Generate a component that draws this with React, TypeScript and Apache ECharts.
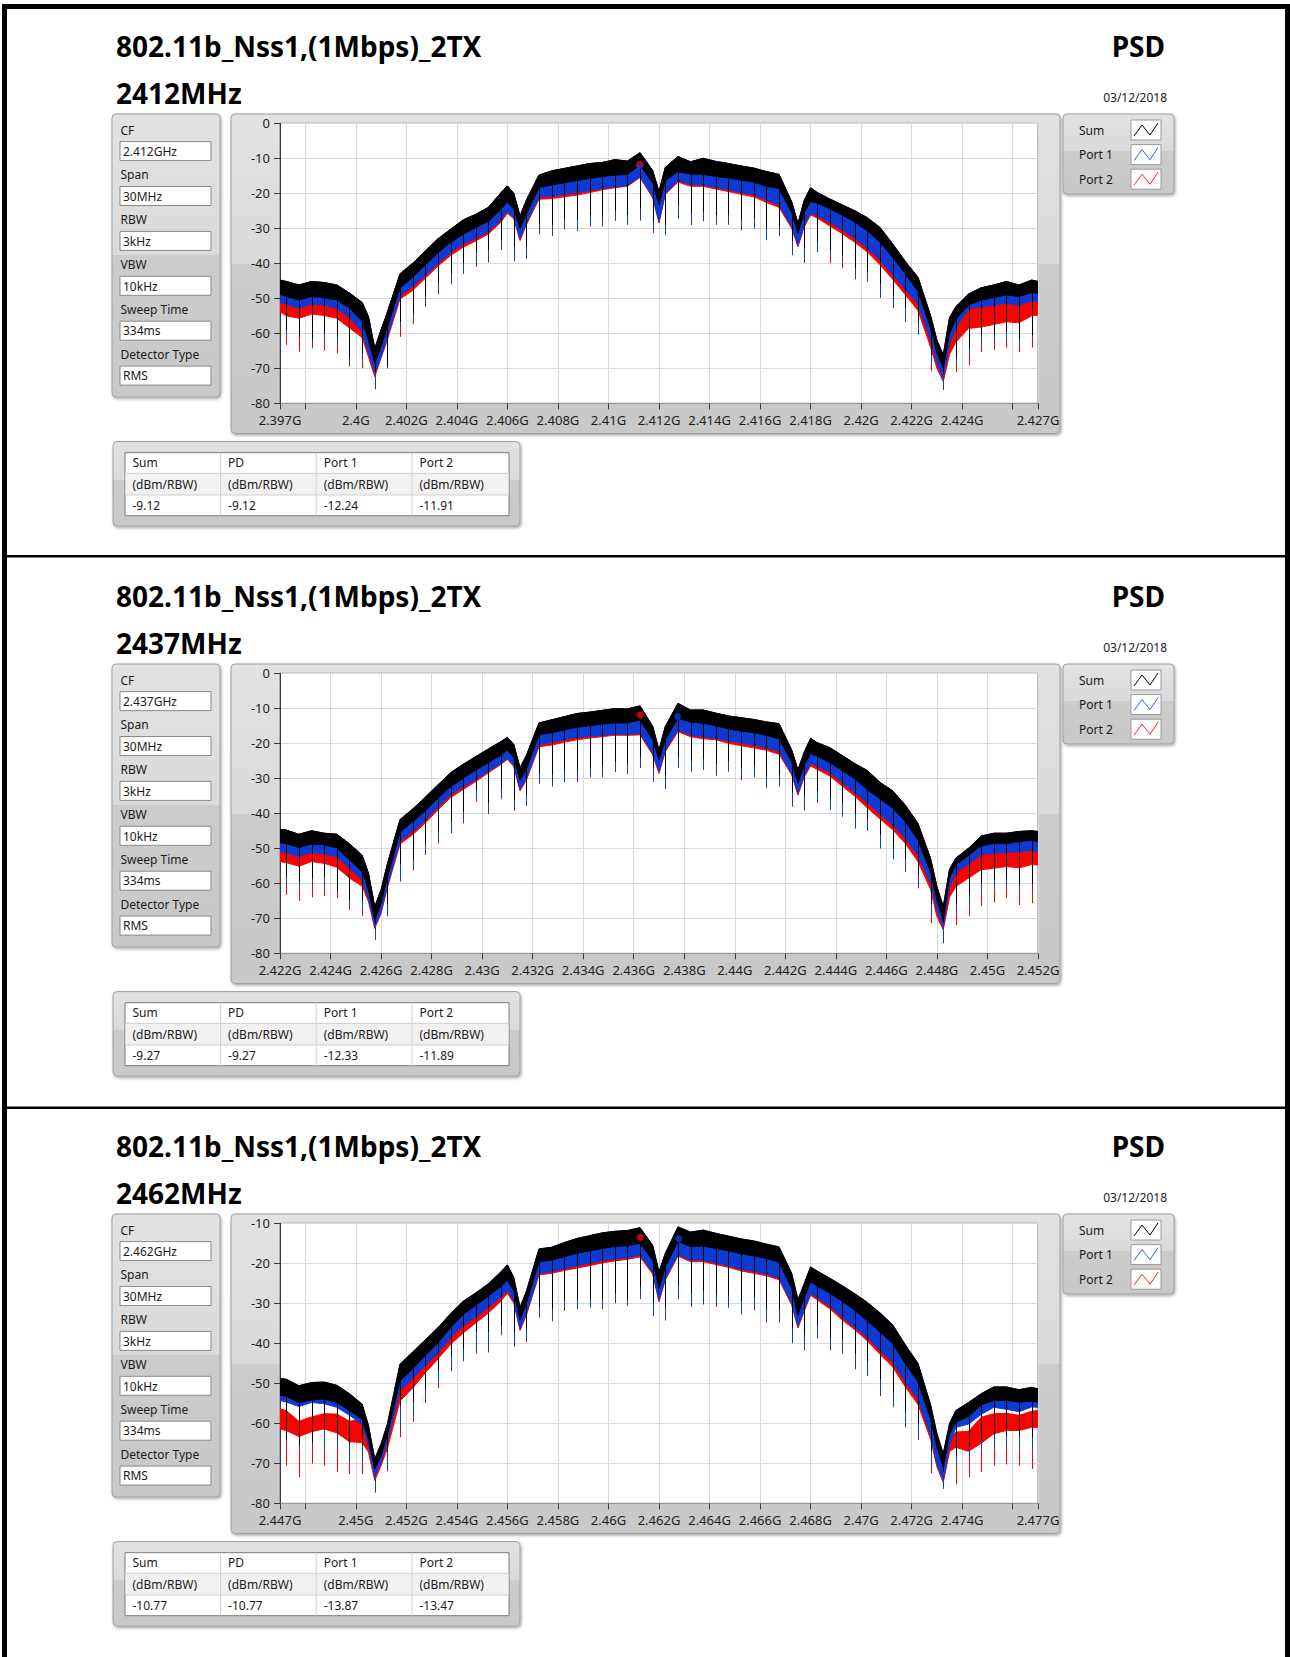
import React, { useEffect, useRef } from 'react';
import * as echarts from 'echarts';

// ---------------- text content ----------------
const TITLE = '802.11b_Nss1,(1Mbps)_2TX';
const PSD_LABEL = 'PSD';
const DATE_LABEL = '03/12/2018';
const CENTER_MHZ = [2412, 2437, 2462];
const CHANNEL_LABELS = ['2412MHz', '2437MHz', '2462MHz'];
const CF_LABELS = ['2.412GHz', '2.437GHz', '2.462GHz'];
const PARAM_NAMES = ['CF', 'Span', 'RBW', 'VBW', 'Sweep Time', 'Detector Type'];
const PARAM_COMMON = ['30MHz', '3kHz', '10kHz', '334ms', 'RMS'];
const LEGEND_NAMES = ['Sum', 'Port 1', 'Port 2'];
const TABLE_HEADERS = ['Sum', 'PD', 'Port 1', 'Port 2'];
const TABLE_UNIT = '(dBm/RBW)';
const SUM_PEAK = [-9.12, -9.27, -10.77];
const PD_PEAK = [-9.12, -9.27, -10.77];
const PORT1_PEAK = [-12.24, -12.33, -13.87];
const PORT2_PEAK = [-11.91, -11.89, -13.47];
const MARKER_PORT1_OFF = [-0.76, 0.73, 0.78];
const MARKER_PORT2_OFF = [-0.76, -0.74, -0.74];

// ---------------- axes ----------------
const X_MIN = [2397, 2422, 2447];
const X_MAX = [2427, 2452, 2477];
const Y_MIN = [-80, -80, -80];
const Y_MAX = [0, 0, -10];
const X_LABELS_1 = [2397, 2400, 2402, 2404, 2406, 2408, 2410, 2412, 2414, 2416, 2418, 2420, 2422, 2424, 2427];
const X_TICKS_1 = [2397, 2398, 2400, 2402, 2404, 2406, 2408, 2410, 2412, 2414, 2416, 2418, 2420, 2422, 2424, 2426, 2427];
const X_LABELS_2 = [2422, 2424, 2426, 2428, 2430, 2432, 2434, 2436, 2438, 2440, 2442, 2444, 2446, 2448, 2450, 2452];
const X_TICKS_2 = [2422, 2424, 2426, 2428, 2430, 2432, 2434, 2436, 2438, 2440, 2442, 2444, 2446, 2448, 2450, 2452];
const X_LABELS_3 = [2447, 2450, 2452, 2454, 2456, 2458, 2460, 2462, 2464, 2466, 2468, 2470, 2472, 2474, 2477];
const X_TICKS_3 = [2447, 2448, 2450, 2452, 2454, 2456, 2458, 2460, 2462, 2464, 2466, 2468, 2470, 2472, 2474, 2476, 2477];

// ---------------- spectrum envelopes (offset from CF in MHz, dBm) ----------------
const OFFSETS = [-15, -14.75, -14.25, -13.75, -13.25, -12.75, -12.25, -11.75, -11.5, -11.25, -11, -10.75, -10.25, -9.75, -9.25, -8.75, -8.25, -7.75, -7.25, -6.75, -6.25, -6, -5.75, -5.5, -5.25, -4.75, -4.25, -3.75, -3.25, -2.75, -2.25, -1.75, -1.25, -0.75, -0.25, 0, 0.25, 0.75, 1.25, 1.75, 2.25, 2.75, 3.25, 3.75, 4.25, 4.75, 5.25, 5.5, 5.75, 6, 6.25, 6.75, 7.25, 7.75, 8.25, 8.75, 9.25, 9.75, 10.25, 10.75, 11, 11.25, 11.5, 11.75, 12.25, 12.75, 13.25, 13.75, 14.25, 14.75, 15];
const SPIKE_OFFSETS = [-14.75, -14.25, -13.75, -13.25, -12.75, -12.25, -11.75, -11.25, -10.75, -10.25, -9.75, -9.25, -8.75, -8.25, -7.75, -7.25, -6.75, -6.25, -5.75, -5.25, -4.75, -4.25, -3.75, -3.25, -2.75, -2.25, -1.75, -1.25, -0.75, -0.25, 0.25, 0.75, 1.25, 1.75, 2.25, 2.75, 3.25, 3.75, 4.25, 4.75, 5.25, 5.75, 6.25, 6.75, 7.25, 7.75, 8.25, 8.75, 9.25, 9.75, 10.25, 10.75, 11.25, 11.75, 12.25, 12.75, 13.25, 13.75, 14.25, 14.75];

// Panel 1 (2412 MHz)
const P1_SUM_TOP = [-44.8, -45.2, -46.2, -45.2, -45.5, -46.2, -48.5, -51.2, -55.2, -64.3, -59, -54, -43, -40, -36.5, -33, -30.3, -27.6, -26, -24, -19.8, -17.9, -20, -26.5, -22, -14.8, -13.6, -12.9, -12.2, -11.5, -11.2, -10.4, -10.8, -8.4, -13.5, -19.5, -12.6, -9.5, -11, -10, -10.9, -11.5, -12.2, -12.8, -13.8, -14.6, -22.4, -28.6, -22, -18.4, -19.7, -21.6, -23.3, -25, -27, -29.8, -34.5, -39.5, -44, -55, -62, -66.2, -55.5, -52.4, -48.8, -47, -46.2, -45.2, -46.2, -44.8, -45.2];
const P1_SUM_BOT = [-48.9, -49.5, -50.5, -49.5, -49.8, -50.5, -52.8, -56.5, -61.9, -68.6, -63.8, -58.2, -47, -44, -40.5, -37, -34, -31.7, -29.8, -28, -24.5, -22.4, -24.5, -30, -26, -18.4, -17.6, -17, -16.4, -15.7, -15.2, -14.8, -14.6, -11.9, -17, -23.3, -16.4, -13.8, -14.5, -14.6, -15.2, -15.6, -16.3, -16.8, -18, -18.6, -25.5, -31.4, -25.5, -22.4, -22.7, -24.4, -26.2, -28.3, -30.7, -34, -38.3, -43, -48, -58.5, -65.5, -70, -60, -56, -52, -50.5, -49.8, -49, -49.5, -48.4, -48.6];
const P1_PORT1_BOT = [-51.2, -51.6, -52.9, -51.6, -51.9, -52.9, -55.5, -59.5, -65.7, -71.4, -66.7, -61, -49.3, -46.6, -43.5, -40, -37, -34.4, -32.8, -31, -27.5, -25.2, -26.8, -33, -28.5, -21, -20.8, -20.3, -19.8, -19.2, -18.6, -18.1, -17.8, -15.2, -21, -28.1, -20, -16.3, -17.5, -17.6, -18.3, -19, -19.8, -20.4, -21.9, -23.3, -29.5, -34.8, -29, -25.7, -26.3, -28.3, -30.4, -32.8, -35.7, -39, -43.3, -47.5, -51.5, -62, -68.5, -72.9, -63, -58.5, -53, -52.5, -52, -51.4, -52, -50.7, -51];
const P1_PORT2_BOT = [-53.8, -55, -55.7, -54.5, -54.9, -55.7, -58.5, -61.2, -66.7, -72.4, -67.1, -61.8, -50.2, -47.8, -44.3, -40.8, -37.8, -35.4, -33.6, -31.6, -28.2, -25.7, -27.3, -33.5, -29, -21.7, -21.5, -21, -20.5, -19.8, -19, -18.4, -18, -15.5, -21.3, -28.5, -20.3, -16.8, -18, -18, -18.8, -19.5, -20.3, -21, -22.6, -24, -30, -35.3, -29.6, -26.2, -27, -29.3, -31.5, -34, -36.8, -40.4, -44.6, -49, -53.5, -64, -70, -73.8, -66, -62.5, -58.6, -58.2, -57.5, -56.7, -57, -55, -54.8];
const P1_SPIKE_SUM = [-59, -61, -61.7, -60, -61, -67, -65.7, -71, -69.5, -56.7, -54.3, -49.5, -45.7, -42.9, -40, -36.7, -36.2, -33.3, -35.2, -35.2, -28.6, -29, -27.1, -27.6, -26.2, -26.7, -24.8, -26.2, -24.3, -28.1, -29, -23.3, -25.7, -25.2, -26.2, -26.2, -27.6, -27.1, -30, -29.5, -33.8, -35.7, -33.8, -36.2, -37.6, -41.4, -42.4, -46, -49, -52.8, -56.7, -66.2, -71, -67.1, -64.3, -60.5, -60.5, -59.5, -61.4, -60.5];
const P1_SPIKE_PORT1 = [-60.5, -61.4, -62.9, -61.9, -62.9, -68, -67.6, -76, -70, -58, -55.2, -52.4, -48.6, -45.7, -42.9, -40.5, -39.5, -36.2, -39, -38.6, -31.4, -31.9, -30, -30.5, -29, -29.3, -27.6, -28.8, -27.6, -30.5, -31.9, -27.1, -28.9, -27.9, -28.1, -28.1, -30.5, -30, -33.3, -32.1, -37.6, -39.8, -36.7, -37.6, -39.5, -44.5, -44.3, -49.8, -52.7, -56.7, -60.3, -69, -76.2, -69, -66.2, -63.3, -62.4, -61.6, -63.3, -61.4];
const P1_SPIKE_PORT2 = [-63.3, -65.2, -64.3, -65, -65.7, -69.5, -70, -74, -70, -61, -57.3, -52.4, -48.9, -46, -43, -41, -39.8, -36.2, -39.5, -38.6, -31.7, -32.2, -30.3, -30.8, -29.5, -29.5, -27.9, -29, -27.8, -31.4, -32, -27.2, -29, -28, -29, -29, -30.6, -30.1, -33.4, -32.2, -37.7, -39.9, -36.8, -40, -41.4, -44.6, -45.4, -49.9, -52.8, -56.8, -60.4, -70.8, -74, -71.1, -69.2, -65.4, -64.8, -64.1, -65.4, -64.1];

// Panel 2 (2437 MHz)
const P2_SUM_TOP = [-44.6, -44.8, -46, -45, -45.7, -46, -48.7, -52, -57.1, -66.7, -61.9, -54.5, -41.8, -38.8, -35.4, -31.9, -28.4, -26, -23.8, -21.6, -19.5, -18.3, -20.3, -27, -23.5, -14.2, -13.3, -12.4, -11.5, -11.1, -10.6, -10.1, -10.2, -9.3, -15.2, -21.9, -15.2, -8.6, -10.5, -10.5, -11.4, -12.2, -12.7, -13.2, -13.9, -14.4, -21.9, -27.6, -22.5, -18.6, -19.8, -21.2, -23.5, -25.8, -27.8, -31.2, -33.6, -37.7, -42.9, -53, -61, -66.7, -56, -52.8, -50, -46.5, -45.7, -45.7, -45.2, -45, -45.2];
const P2_SUM_BOT = [-48.4, -48.7, -49.8, -48.8, -49, -49.9, -53.3, -56.7, -61.9, -70.5, -65.7, -58.3, -45.4, -42.4, -39.3, -35.7, -32.4, -30, -27.6, -25.5, -23.3, -21.9, -24, -30.5, -27.5, -17.5, -17, -16.2, -15.4, -15, -14.5, -14.2, -14.2, -13.3, -19, -24.8, -19, -12.9, -13.9, -14.3, -15, -15.9, -16.5, -17, -17.7, -18.8, -25.2, -31.4, -26.3, -22.9, -23.6, -25.5, -27.8, -30.2, -33.2, -35.9, -38.5, -42.4, -47.6, -56.8, -64.8, -70.5, -58.5, -54.7, -52, -49.3, -48.6, -48.6, -48.1, -47.7, -48.1];
const P2_PORT1_BOT = [-51, -51.3, -52.3, -51.2, -51.6, -52.4, -55.7, -59.1, -64.3, -72.4, -68.1, -60.7, -47.9, -45.2, -42, -38.2, -34.7, -32.4, -30.3, -28, -25.7, -24.3, -26.3, -33.2, -30, -20.4, -19.7, -19, -18.3, -18, -17.7, -17.4, -17.4, -17.1, -22.9, -28.1, -21.9, -16.2, -17.6, -18.1, -18.6, -19.3, -19.9, -20.5, -21.2, -22.3, -28.6, -34.3, -29.1, -25.7, -26.5, -28.3, -31.2, -34, -37, -40.2, -43.3, -47.2, -52, -60, -67.6, -72.4, -61.2, -57, -54.5, -51.8, -51.4, -51.2, -51, -50.6, -51];
const P2_PORT2_BOT = [-53.8, -54.1, -55.1, -53.8, -54.3, -55.4, -58.5, -60.8, -65.2, -72.9, -68.6, -61.3, -48.8, -46.1, -42.8, -39, -35.5, -33.2, -30.9, -28.4, -26, -24.6, -26.6, -33.6, -30.5, -21, -20.5, -19.7, -19, -18.5, -18.1, -17.7, -17.7, -17.6, -23.3, -28.6, -22.4, -16.7, -18.1, -18.7, -19, -20, -20.7, -21.3, -22, -23.1, -29, -34.8, -29.6, -26.5, -27.4, -29.3, -32.2, -35.1, -38.5, -41.6, -44.7, -48.6, -53.8, -61.8, -69.5, -73.3, -64, -60.9, -58.5, -56.1, -55.7, -55.2, -55.6, -54.6, -54.8];
const P2_SPIKE_SUM = [-58.1, -59.5, -58.6, -58.1, -61.9, -64.8, -64.8, -71.4, -66, -54.3, -53.3, -48.6, -45.2, -42.4, -39.5, -33.3, -37.1, -32.9, -36.2, -34.8, -28.6, -29, -27.6, -27.6, -27.1, -26.5, -25.2, -25.7, -23.8, -27, -29, -24, -25, -24.5, -26, -25, -27, -26.5, -29.5, -29, -34, -35, -33.5, -35.5, -37, -40, -41.5, -46, -49.5, -53, -57.5, -66, -71, -66, -63, -60, -59, -58.5, -60.5, -60];
const P2_SPIKE_PORT1 = [-60.5, -61.4, -60.5, -61, -62.9, -66.7, -67.1, -75.2, -69, -59, -55.7, -51.4, -48.1, -45.2, -42.4, -36.2, -40, -35.7, -39, -37.6, -31.4, -32.2, -31, -31, -29.5, -29.5, -28.1, -28.6, -26.7, -30.5, -32.8, -27, -28, -27.5, -29, -28, -30.2, -29.5, -32.5, -32, -38, -39, -36.8, -38.8, -40.5, -44.3, -44.8, -50, -53.1, -56.7, -61.4, -69.5, -77.1, -68.5, -66, -62.5, -61.5, -61, -62.5, -62];
const P2_SPIKE_PORT2 = [-63.3, -65, -64, -63.6, -64.3, -67.6, -69.3, -76.2, -69.5, -59.5, -56.4, -51.9, -48.6, -45.7, -42.9, -36.7, -40.2, -36, -39.3, -37.9, -31.6, -32.4, -31.1, -31.1, -29.7, -29.7, -28.2, -28.8, -27.1, -31, -33.1, -27.1, -28.1, -27.6, -29.3, -28.1, -30.5, -29.7, -32.9, -32.4, -38.1, -39.2, -37, -39, -41, -44.3, -45, -50, -53.1, -56.7, -61.4, -71.4, -75, -71.9, -69.3, -66.5, -65.5, -64.3, -66.2, -65.7];

// Panel 3 (2462 MHz)
const P3_SUM_TOP = [-48.8, -49, -50.6, -49.8, -49.7, -50.5, -52.6, -55.2, -60.5, -68.9, -65.1, -60.2, -45.2, -42.2, -39.1, -36.1, -32.6, -29.5, -27.4, -25.1, -22.1, -20.4, -23.5, -31, -27, -16.4, -16, -14.8, -13.8, -13.1, -12.4, -12, -11.8, -11.1, -15.5, -22.1, -17.5, -10.9, -12.2, -11.7, -12.5, -13.2, -13.9, -14.4, -15.2, -15.9, -22.5, -29.1, -25, -20.9, -21.9, -23.7, -25.6, -27.6, -29.8, -32.4, -35.4, -40.4, -45, -55.4, -62.6, -67.6, -60, -56.8, -54.8, -52.6, -50.9, -50.9, -51.6, -51, -51.4];
const P3_SUM_BOT = [-53, -53.3, -54.8, -54.2, -53.9, -54.8, -56.8, -59, -63.9, -71.4, -68.1, -62.8, -49.4, -46.4, -43, -39.9, -36.1, -32.8, -30.5, -28.2, -25.7, -24.2, -26.9, -34.2, -30, -19.6, -19.2, -18.4, -17.5, -16.9, -16.3, -15.8, -15.6, -15, -19.2, -26.3, -20.9, -14.5, -15.8, -15.7, -16.3, -16.9, -17.6, -18.2, -18.8, -19.7, -26.3, -33, -28.6, -24.6, -25.7, -27.4, -29.5, -31.8, -34.4, -37.2, -40.1, -45.1, -49.6, -58.9, -66, -71, -62.7, -59.7, -58.3, -55.4, -54.3, -54.3, -54.7, -54.5, -54.7];
const P3_PORT1_BOT = [-54.3, -54.7, -55.8, -54.8, -55.1, -56, -58, -60.3, -65.5, -73.5, -69.7, -64.5, -51.9, -48.7, -45.5, -42.4, -38.6, -35.5, -33.4, -31, -28.4, -26.7, -29.4, -36.4, -32.5, -22.5, -22.1, -21.3, -20.6, -20, -19.3, -18.9, -18.6, -17.9, -22.3, -29.2, -23.8, -17.8, -19.2, -19.2, -19.9, -20.6, -21.5, -22, -22.7, -23.6, -30, -35.8, -31.5, -27.5, -28.6, -30.6, -33.5, -36, -38.6, -41.8, -44.7, -49.7, -54, -63, -70.2, -74.3, -65.5, -61, -60.2, -57.8, -56, -56.5, -57.1, -55.9, -56];
const P3_PORT2_TOP = [-56.4, -56.8, -59.5, -58.4, -57.6, -57.7, -59.5, -59, -64, -72, -68.5, -63, -50.5, -47, -44, -41, -37, -34, -32, -29.5, -27, -25.2, -28, -35, -31, -21, -20.6, -19.8, -19, -18.5, -17.8, -17.4, -17, -16.4, -20.8, -27.6, -22.3, -16.3, -17.6, -17.6, -18.3, -19, -19.9, -20.4, -21.1, -22, -28.4, -34.3, -30, -26, -27.1, -29, -32, -34.5, -37, -40, -43, -48, -52.5, -61.5, -68.5, -73, -64, -62.2, -62, -58.5, -57.6, -57.5, -58, -57, -56.8];
const P3_PORT2_BOT = [-61.4, -61.8, -63.3, -62.1, -61.4, -62.4, -64.6, -64.8, -67.2, -74.3, -70.6, -66.3, -54.4, -51.2, -47.4, -43.9, -40.3, -37.4, -34.9, -32.4, -29.4, -27.5, -29.9, -36.8, -33, -22.9, -22.5, -21.8, -21.2, -20.6, -19.9, -19.4, -19, -18.4, -22.7, -29.6, -24.2, -18.2, -19.6, -19.6, -20.3, -21, -21.9, -22.5, -23.1, -24.1, -30.4, -36.2, -31.9, -28, -29.1, -31.3, -34.2, -36.6, -39.4, -42.8, -45.9, -50.9, -55.3, -64, -70.9, -74.8, -67, -66, -67, -65, -62.6, -61.8, -61.8, -61, -61];
const P3_SPIKE_SUM = [-63.9, -65.6, -64.7, -61.4, -62.6, -65, -65.6, -71, -67.2, -55.5, -54.7, -51.4, -46.8, -43, -41.3, -37.2, -37.2, -35.5, -37.2, -36.3, -30.9, -31.3, -29.2, -29.2, -28.8, -28.8, -27.5, -28.8, -25.9, -30, -31, -25.5, -27.5, -27, -28, -28, -29.5, -28.5, -31.5, -31.5, -36, -38, -35.5, -38.5, -39, -42.5, -44.5, -49, -52, -57, -60, -67, -72, -68, -66, -64, -63, -63, -63, -63.5];
const P3_SPIKE_PORT1 = [-64.3, -66, -65.5, -67.2, -66, -69.7, -69.7, -77.3, -71.8, -61.4, -58, -53, -49.7, -46.8, -44.3, -42.2, -41.7, -37.8, -40.5, -39.2, -33.4, -34.2, -31.7, -31.3, -30.9, -31.3, -29.8, -30.5, -28.8, -33, -34.1, -28.8, -30.7, -30.1, -30.6, -31, -32.5, -31.5, -34.5, -34.5, -39.7, -41.6, -38.6, -41.6, -42.4, -46.3, -48, -53, -55.8, -60.8, -63.9, -71, -76.4, -70, -68, -67, -66, -66, -66.5, -66.5];
const P3_SPIKE_PORT2 = [-70.6, -73.5, -70.1, -70.6, -72.2, -72.7, -72.7, -76.4, -72, -63.5, -59.7, -54.9, -51.2, -47, -44.5, -42.6, -42.3, -38, -40.9, -39.7, -33.6, -34.5, -31.9, -31.5, -31.1, -31.5, -30, -30.7, -29, -33.2, -34.3, -29, -30.9, -30.3, -30.9, -31.1, -32.8, -31.7, -34.8, -34.8, -40, -41.8, -38.8, -41.8, -42.6, -46.5, -48.2, -53.2, -56, -61, -64.2, -72.5, -75.5, -75.3, -73.5, -72.2, -70.6, -70.3, -70.6, -71.4];

// ---------------- assembly ----------------
const PANELS = [
  { sumTop: P1_SUM_TOP, sumBot: P1_SUM_BOT, p1Bot: P1_PORT1_BOT, p2Top: P1_SUM_TOP, p2Bot: P1_PORT2_BOT, sSum: P1_SPIKE_SUM, sP1: P1_SPIKE_PORT1, sP2: P1_SPIKE_PORT2, xl: X_LABELS_1, xt: X_TICKS_1 },
  { sumTop: P2_SUM_TOP, sumBot: P2_SUM_BOT, p1Bot: P2_PORT1_BOT, p2Top: P2_SUM_TOP, p2Bot: P2_PORT2_BOT, sSum: P2_SPIKE_SUM, sP1: P2_SPIKE_PORT1, sP2: P2_SPIKE_PORT2, xl: X_LABELS_2, xt: X_TICKS_2 },
  { sumTop: P3_SUM_TOP, sumBot: P3_SUM_BOT, p1Bot: P3_PORT1_BOT, p2Top: P3_PORT2_TOP, p2Bot: P3_PORT2_BOT, sSum: P3_SPIKE_SUM, sP1: P3_SPIKE_PORT1, sP2: P3_SPIKE_PORT2, xl: X_LABELS_3, xt: X_TICKS_3 },
];

const FONT = '"Noto Sans", "Open Sans", sans-serif';
const BLACK = '#000000';
const BLUE = '#0b3bd4';
const RED = '#ff0000';
const DY = 550;

function fmtG(v: number) {
  return parseFloat((v / 1000).toFixed(3)) + 'G';
}

function twoTone(split: number) {
  return new echarts.graphic.LinearGradient(0, 0, 0, 1, [
    { offset: 0, color: '#e2e2e2' },
    { offset: split, color: '#dadada' },
    { offset: split, color: '#cccccc' },
    { offset: 1, color: '#c8c8c8' },
  ]);
}

function box(x: number, y: number, w: number, h: number, split: number) {
  return {
    type: 'rect', z: -5, silent: true,
    shape: { x, y, width: w, height: h, r: 4 },
    style: { fill: twoTone(split), stroke: '#a0a0a0', lineWidth: 1, shadowBlur: 3, shadowOffsetX: 1, shadowOffsetY: 1.5, shadowColor: 'rgba(0,0,0,0.35)' },
  };
}

function rect(x: number, y: number, w: number, h: number, fill: string, stroke: string | null, z = -4) {
  return { type: 'rect', z, silent: true, shape: { x, y, width: w, height: h }, style: { fill, stroke: stroke || undefined, lineWidth: 1 } };
}

function hline(x1: number, x2: number, y: number, color: string, z = -3) {
  return { type: 'line', z, silent: true, shape: { x1, y1: y, x2, y2: y }, style: { stroke: color, lineWidth: 1 } };
}
function vline(x: number, y1: number, y2: number, color: string, z = -3) {
  return { type: 'line', z, silent: true, shape: { x1: x, y1, x2: x, y2 }, style: { stroke: color, lineWidth: 1 } };
}

function txt(x: number, y: number, text: string, o: any = {}) {
  return {
    type: 'text', z: 50, silent: true, x, y,
    style: { text, fill: o.fill || '#1a1a1a', fontSize: o.size || 12, fontFamily: FONT, fontWeight: o.weight || 'normal', align: o.align || 'left', verticalAlign: 'middle' },
  };
}

function bandSeries(gi: number, xs: number[], tops: number[], bots: number[], color: string, z: number) {
  return {
    type: 'custom', xAxisIndex: gi, yAxisIndex: gi, z, silent: true, clip: true,
    encode: { x: 0, y: [1, 2] },
    data: xs.map((x, i) => [x, tops[i], bots[i]]),
    renderItem: (params: any, api: any) => {
      if (params.dataIndexInside !== 0) return null;
      const n = params.dataInsideLength;
      const up: number[][] = [];
      const lo: number[][] = [];
      for (let j = 0; j < n; j++) {
        up.push(api.coord([api.value(0, j), api.value(1, j)]));
        lo.push(api.coord([api.value(0, j), api.value(2, j)]));
      }
      return { type: 'polygon', shape: { points: up.concat(lo.reverse()) }, style: { fill: color, stroke: color, lineWidth: 1 } };
    },
  };
}

function spikeSeries(gi: number, cf: number, starts: number[], tips: number[], color: string, z: number) {
  const data = SPIKE_OFFSETS.map((off, k) => [cf + off, starts[OFFSETS.indexOf(off)], tips[k]]);
  return {
    type: 'custom', xAxisIndex: gi, yAxisIndex: gi, z, silent: true,
    encode: { x: 0, y: [1, 2] },
    data,
    renderItem: (params: any, api: any) => {
      const a = api.coord([api.value(0), api.value(1)]);
      const b = api.coord([api.value(0), api.value(2)]);
      const px = Math.round(a[0]) + 0.5;
      return { type: 'line', shape: { x1: px, y1: a[1], x2: px, y2: b[1] }, style: { stroke: color, lineWidth: 1 } };
    },
  };
}

function buildOption() {
  const grid: any[] = [];
  const xAxis: any[] = [];
  const yAxis: any[] = [];
  const series: any[] = [];
  const g: any[] = [];

  // page frame
  g.push({ type: 'rect', z: 60, silent: true, shape: { x: 2, y: 4, width: 1288, height: 5 }, style: { fill: '#000' } });
  g.push({ type: 'rect', z: 60, silent: true, shape: { x: 2, y: 4, width: 5, height: 1653 }, style: { fill: '#000' } });
  g.push({ type: 'rect', z: 60, silent: true, shape: { x: 1285, y: 4, width: 5, height: 1653 }, style: { fill: '#000' } });
  g.push({ type: 'rect', z: 60, silent: true, shape: { x: 2, y: 555, width: 1288, height: 2.5 }, style: { fill: '#000' } });
  g.push({ type: 'rect', z: 60, silent: true, shape: { x: 2, y: 1106.5, width: 1288, height: 2.5 }, style: { fill: '#000' } });

  PANELS.forEach((P, p) => {
    const dy = DY * p;
    const cf = CENTER_MHZ[p];
    const xs = OFFSETS.map((o) => cf + o);

    grid.push({ left: 280, top: 123.3 + dy, width: 758, height: 280, show: true, backgroundColor: '#ffffff', borderColor: '#7d7d7d', borderWidth: 1 });
    xAxis.push({
      type: 'value', gridIndex: p, min: X_MIN[p], max: X_MAX[p],
      axisLine: { show: true, onZero: false, lineStyle: { color: '#9a9a9a' } },
      axisTick: { show: true, length: 6, customValues: P.xt, lineStyle: { color: '#3a3a3a' } },
      axisLabel: { customValues: P.xl, formatter: (v: number) => fmtG(v), color: '#1e1e1e', fontSize: 13, fontFamily: FONT, margin: 10 },
      splitLine: { show: true, lineStyle: { color: '#d9d9d9', width: 1 } },
    });
    yAxis.push({
      type: 'value', gridIndex: p, min: Y_MIN[p], max: Y_MAX[p], interval: 10,
      axisLine: { show: true, onZero: false, lineStyle: { color: '#3a3a3a' } },
      axisTick: { show: true, length: 6, lineStyle: { color: '#3a3a3a' } },
      axisLabel: { color: '#1e1e1e', fontSize: 13, lineHeight: 13, fontFamily: FONT, margin: 10 },
      splitLine: { show: true, lineStyle: { color: '#d9d9d9', width: 1 } },
    });

    series.push(bandSeries(p, xs, P.p2Top, P.p2Bot, RED, 2));
    series.push(spikeSeries(p, cf, P.p2Bot, P.sP2, RED, 3));
    series.push(bandSeries(p, xs, P.sumTop, P.p1Bot, BLUE, 4));
    series.push(spikeSeries(p, cf, P.p1Bot, P.sP1, BLUE, 5));
    series.push(bandSeries(p, xs, P.sumTop, P.sumBot, BLACK, 6));
    series.push(spikeSeries(p, cf, P.sumBot, P.sSum, BLACK, 7));
    series.push({ type: 'scatter', xAxisIndex: p, yAxisIndex: p, z: 8, silent: true, symbolSize: p === 0 ? 8 : 7, itemStyle: { color: RED }, data: [[cf + MARKER_PORT2_OFF[p], PORT2_PEAK[p]]] });
    series.push({ type: 'scatter', xAxisIndex: p, yAxisIndex: p, z: 9, silent: true, symbolSize: p === 0 ? 5.5 : 7, itemStyle: { color: BLUE }, data: [[cf + MARKER_PORT1_OFF[p], PORT1_PEAK[p]]] });

    // headings
    g.push(txt(116, 45.5 + dy, TITLE, { size: 28, weight: 'bold', fill: '#000' }));
    g.push(txt(116, 92.5 + dy, CHANNEL_LABELS[p], { size: 28, weight: 'bold', fill: '#000' }));
    g.push(txt(1165, 45.5 + dy, PSD_LABEL, { size: 28, weight: 'bold', fill: '#000', align: 'right' }));
    g.push(txt(1167, 97 + dy, DATE_LABEL, { size: 12, align: 'right' }));

    // parameter box
    g.push(box(112, 114 + dy, 108, 283, 0.5));
    const vals = [CF_LABELS[p]].concat(PARAM_COMMON);
    PARAM_NAMES.forEach((nm, i) => {
      g.push(txt(120.5, 130 + 44.9 * i + dy, nm));
      g.push(rect(120, 141.6 + 44.9 * i + dy, 91, 19, '#ffffff', '#8a8a8a'));
      g.push(txt(123, 151.3 + 44.9 * i + dy, vals[i]));
    });

    // chart frame
    g.push(box(231, 114 + dy, 829, 319.5, 0.47));

    // legend box
    g.push(box(1063, 114 + dy, 111, 80, 0.46));
    const lc = ['#000000', '#2f5cff', '#ff2020'];
    LEGEND_NAMES.forEach((nm, i) => {
      const cy = 130 + 24.6 * i + dy;
      g.push(txt(1079, cy, nm));
      const bx = 1131, by = cy - 10;
      g.push(rect(bx, by, 30, 20, '#ffffff', '#9a9a9a'));
      g.push({ type: 'polyline', z: 10, silent: true, shape: { points: [[bx + 3, by + 16], [bx + 11, by + 5], [bx + 19, by + 15], [bx + 27, by + 3]] }, style: { stroke: lc[i], lineWidth: 1, fill: null } });
    });

    // table
    g.push(box(113, 441.6 + dy, 407, 84.5, 0.45));
    const tx0 = 125, tx1 = 509, ty0 = 452.7 + dy, ty1 = 515.7 + dy;
    g.push(rect(tx0, ty0, tx1 - tx0, ty1 - ty0, '#ffffff', '#7a7a7a'));
    g.push(rect(tx0 + 0.5, 473.3 + dy, tx1 - tx0 - 1, 21.7, '#f1f1f1', null, -3.5));
    g.push(hline(tx0, tx1, 473.3 + dy, '#cfcfcf'));
    g.push(hline(tx0, tx1, 495 + dy, '#cfcfcf'));
    const cols = [125, 220.6, 316.2, 411.9];
    [220.6, 316.2, 411.9].forEach((cx) => g.push(vline(cx, ty0, ty1, '#cfcfcf')));
    const rowVals = [SUM_PEAK[p], PD_PEAK[p], PORT1_PEAK[p], PORT2_PEAK[p]];
    TABLE_HEADERS.forEach((h, c) => {
      g.push(txt(cols[c] + 7.5, 462.8 + dy, h));
      g.push(txt(cols[c] + 7.5, 484.6 + dy, TABLE_UNIT));
      g.push(txt(cols[c] + 7.5, 505.2 + dy, String(rowVals[c])));
    });
  });

  return { animation: false, backgroundColor: '#ffffff', grid, xAxis, yAxis, series, graphic: g };
}

export default function App() {
  const ref = useRef<HTMLDivElement>(null);
  useEffect(() => {
    if (!ref.current) return;
    const chart = echarts.init(ref.current, undefined, { renderer: 'svg', width: 1290, height: 1657 });
    chart.setOption(buildOption() as any);
    return () => chart.dispose();
  }, []);
  return <div ref={ref} style={{ position: 'absolute', left: 0, top: 0, width: 1290, height: 1657 }} />;
}
